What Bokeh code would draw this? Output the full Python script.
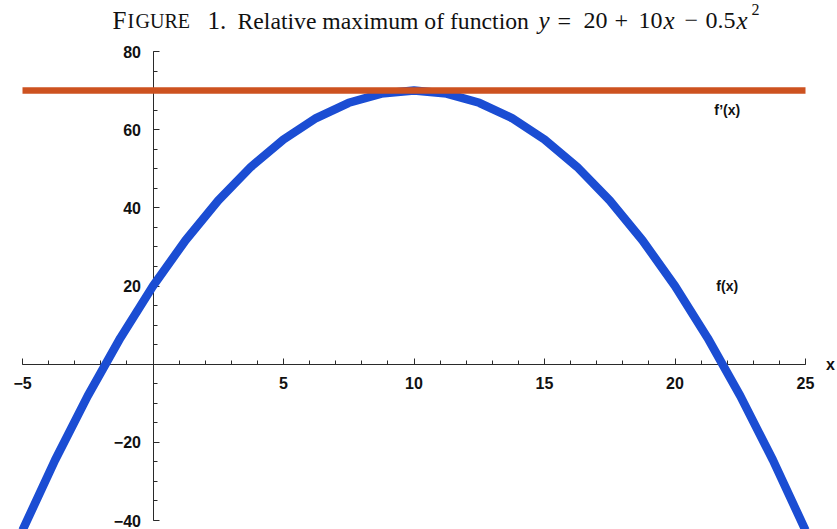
from bokeh.plotting import figure
from bokeh.models import LinearAxis, FixedTicker, Label, Range1d
from bokeh.embed import file_html
from bokeh.resources import INLINE

# sampled points of f(x) = 20 + 10x - 0.5x^2
f_x = [-5, -3.75, -2.5, -1.25, 0, 1.25, 2.5, 3.75, 5, 6.25, 7.5, 8.75, 10,
       11.25, 12.5, 13.75, 15, 16.25, 17.5, 18.75, 20, 21.25, 22.5, 23.75, 25]
f_y = [-42.5, -24.53, -8.13, 6.72, 20, 31.72, 41.88, 50.47, 57.5, 62.97, 66.88, 69.22, 70,
       69.22, 66.88, 62.97, 57.5, 50.47, 41.88, 31.72, 20, 6.72, -8.13, -24.53, -42.5]

# horizontal line through the maximum
g_x = [-5, 25]
g_y = [70, 70]

x_major = [-5, 5, 10, 15, 20, 25]
x_minor = list(range(-5, 26))
x_overrides = {-5: "\u22125"}
y_major = [-40, -20, 20, 40, 60, 80]
y_minor = list(range(-40, 81, 5))
y_overrides = {-40: "\u221240", -20: "\u221220"}

# axis extent
AX_X = (-5, 25)
AX_Y = (-40, 80)

W, H = 837, 529
# pixel box occupied by the axes inside the canvas
BL, BR, BT, BB = 22, 805, 51, 520
sx = (BR - BL) / (AX_X[1] - AX_X[0])
sy = (BB - BT) / (AX_Y[1] - AX_Y[0])
X0 = AX_X[0] - BL / sx
X1 = AX_X[1] + (W - BR) / sx
Y1 = AX_Y[1] + BT / sy
Y0 = AX_Y[0] - (H - BB) / sy


def px_x(px):
    return X0 + px / sx


def px_y(py):
    return Y1 - py / sy


p = figure(width=W, height=H, x_range=Range1d(X0, X1), y_range=Range1d(Y0, Y1),
           x_axis_location=None, y_axis_location=None, toolbar_location=None,
           output_backend="svg", min_border=0, title=None)
p.outline_line_color = None
p.xgrid.visible = False
p.ygrid.visible = False
p.background_fill_color = "white"
p.border_fill_color = "white"

AX_COLOR = "#2a2a2a"
LABEL_FONT = "Liberation Sans"


def style_axis(ax, standoff):
    ax.axis_line_color = AX_COLOR
    ax.axis_line_width = 1
    ax.major_tick_line_color = AX_COLOR
    ax.minor_tick_line_color = AX_COLOR
    ax.major_tick_in = 6
    ax.major_tick_out = 0
    ax.minor_tick_in = 4
    ax.minor_tick_out = 0
    ax.major_label_text_font = LABEL_FONT
    ax.major_label_text_font_style = "bold"
    ax.major_label_text_font_size = "16px"
    ax.major_label_text_color = "#111111"
    ax.major_label_standoff = standoff
    ax.level = "underlay"


xaxis = LinearAxis(fixed_location=0, bounds=AX_X,
                   ticker=FixedTicker(ticks=x_major, minor_ticks=x_minor),
                   major_label_overrides=x_overrides)
style_axis(xaxis, 13)
p.add_layout(xaxis, "below")

yaxis = LinearAxis(fixed_location=0, bounds=AX_Y,
                   ticker=FixedTicker(ticks=y_major, minor_ticks=y_minor),
                   major_label_overrides=y_overrides)
style_axis(yaxis, 12)
p.add_layout(yaxis, "left")

p.line(f_x, f_y, line_color="#1b4dd3", line_width=8.5)
p.line(g_x, g_y, line_color="#cd5220", line_width=6.5)

# curve labels and axis name
for txt, lx, ly in [("f\u2019(x)", 22, 65), ("f(x)", 22, 20)]:
    p.add_layout(Label(x=lx, y=ly, text=txt, text_font=LABEL_FONT, text_font_style="bold",
                       text_font_size="14px", text_align="center", text_baseline="middle",
                       text_color="#111111"))
p.add_layout(Label(x=px_x(830), y=0, text="x", text_font=LABEL_FONT, text_font_style="bold",
                   text_font_size="16px", text_align="center", text_baseline="middle",
                   text_color="#111111"))

# title line, set piece by piece (small caps, italic math, superscript)
SERIF = "Liberation Serif"
TB = 20  # title baseline, pixels from top
pieces = [
    ("F", 112, TB, 25, "normal"),
    ("I", 127, TB, 20, "normal"),
    ("GURE", 135, TB, 20, "normal"),
    ("1.", 207, TB, 25, "normal"),
    ("Relative maximum of function", 237, TB, 23.7, "normal"),
    ("y", 538, TB, 25, "italic"),
    ("=", 557, TB, 24, "normal"),
    ("20", 583, TB, 24, "normal"),
    ("+", 614, TB, 24, "normal"),
    ("10", 638, TB, 24, "normal"),
    ("x", 663, TB, 25, "italic"),
    ("\u2212", 684, TB, 24, "normal"),
    ("0.5", 705, TB, 24, "normal"),
    ("x", 736, TB, 25, "italic"),
    ("2", 751, TB - 11, 16, "normal"),
]
for txt, px, py, size, style in pieces:
    p.add_layout(Label(x=px_x(px), y=px_y(py), text=txt, text_font=SERIF,
                       text_font_style=style, text_font_size=f"{size}px",
                       text_align="left", text_baseline="alphabetic",
                       text_color="#111111"))

open("out.html", "w").write(file_html(p, INLINE))
